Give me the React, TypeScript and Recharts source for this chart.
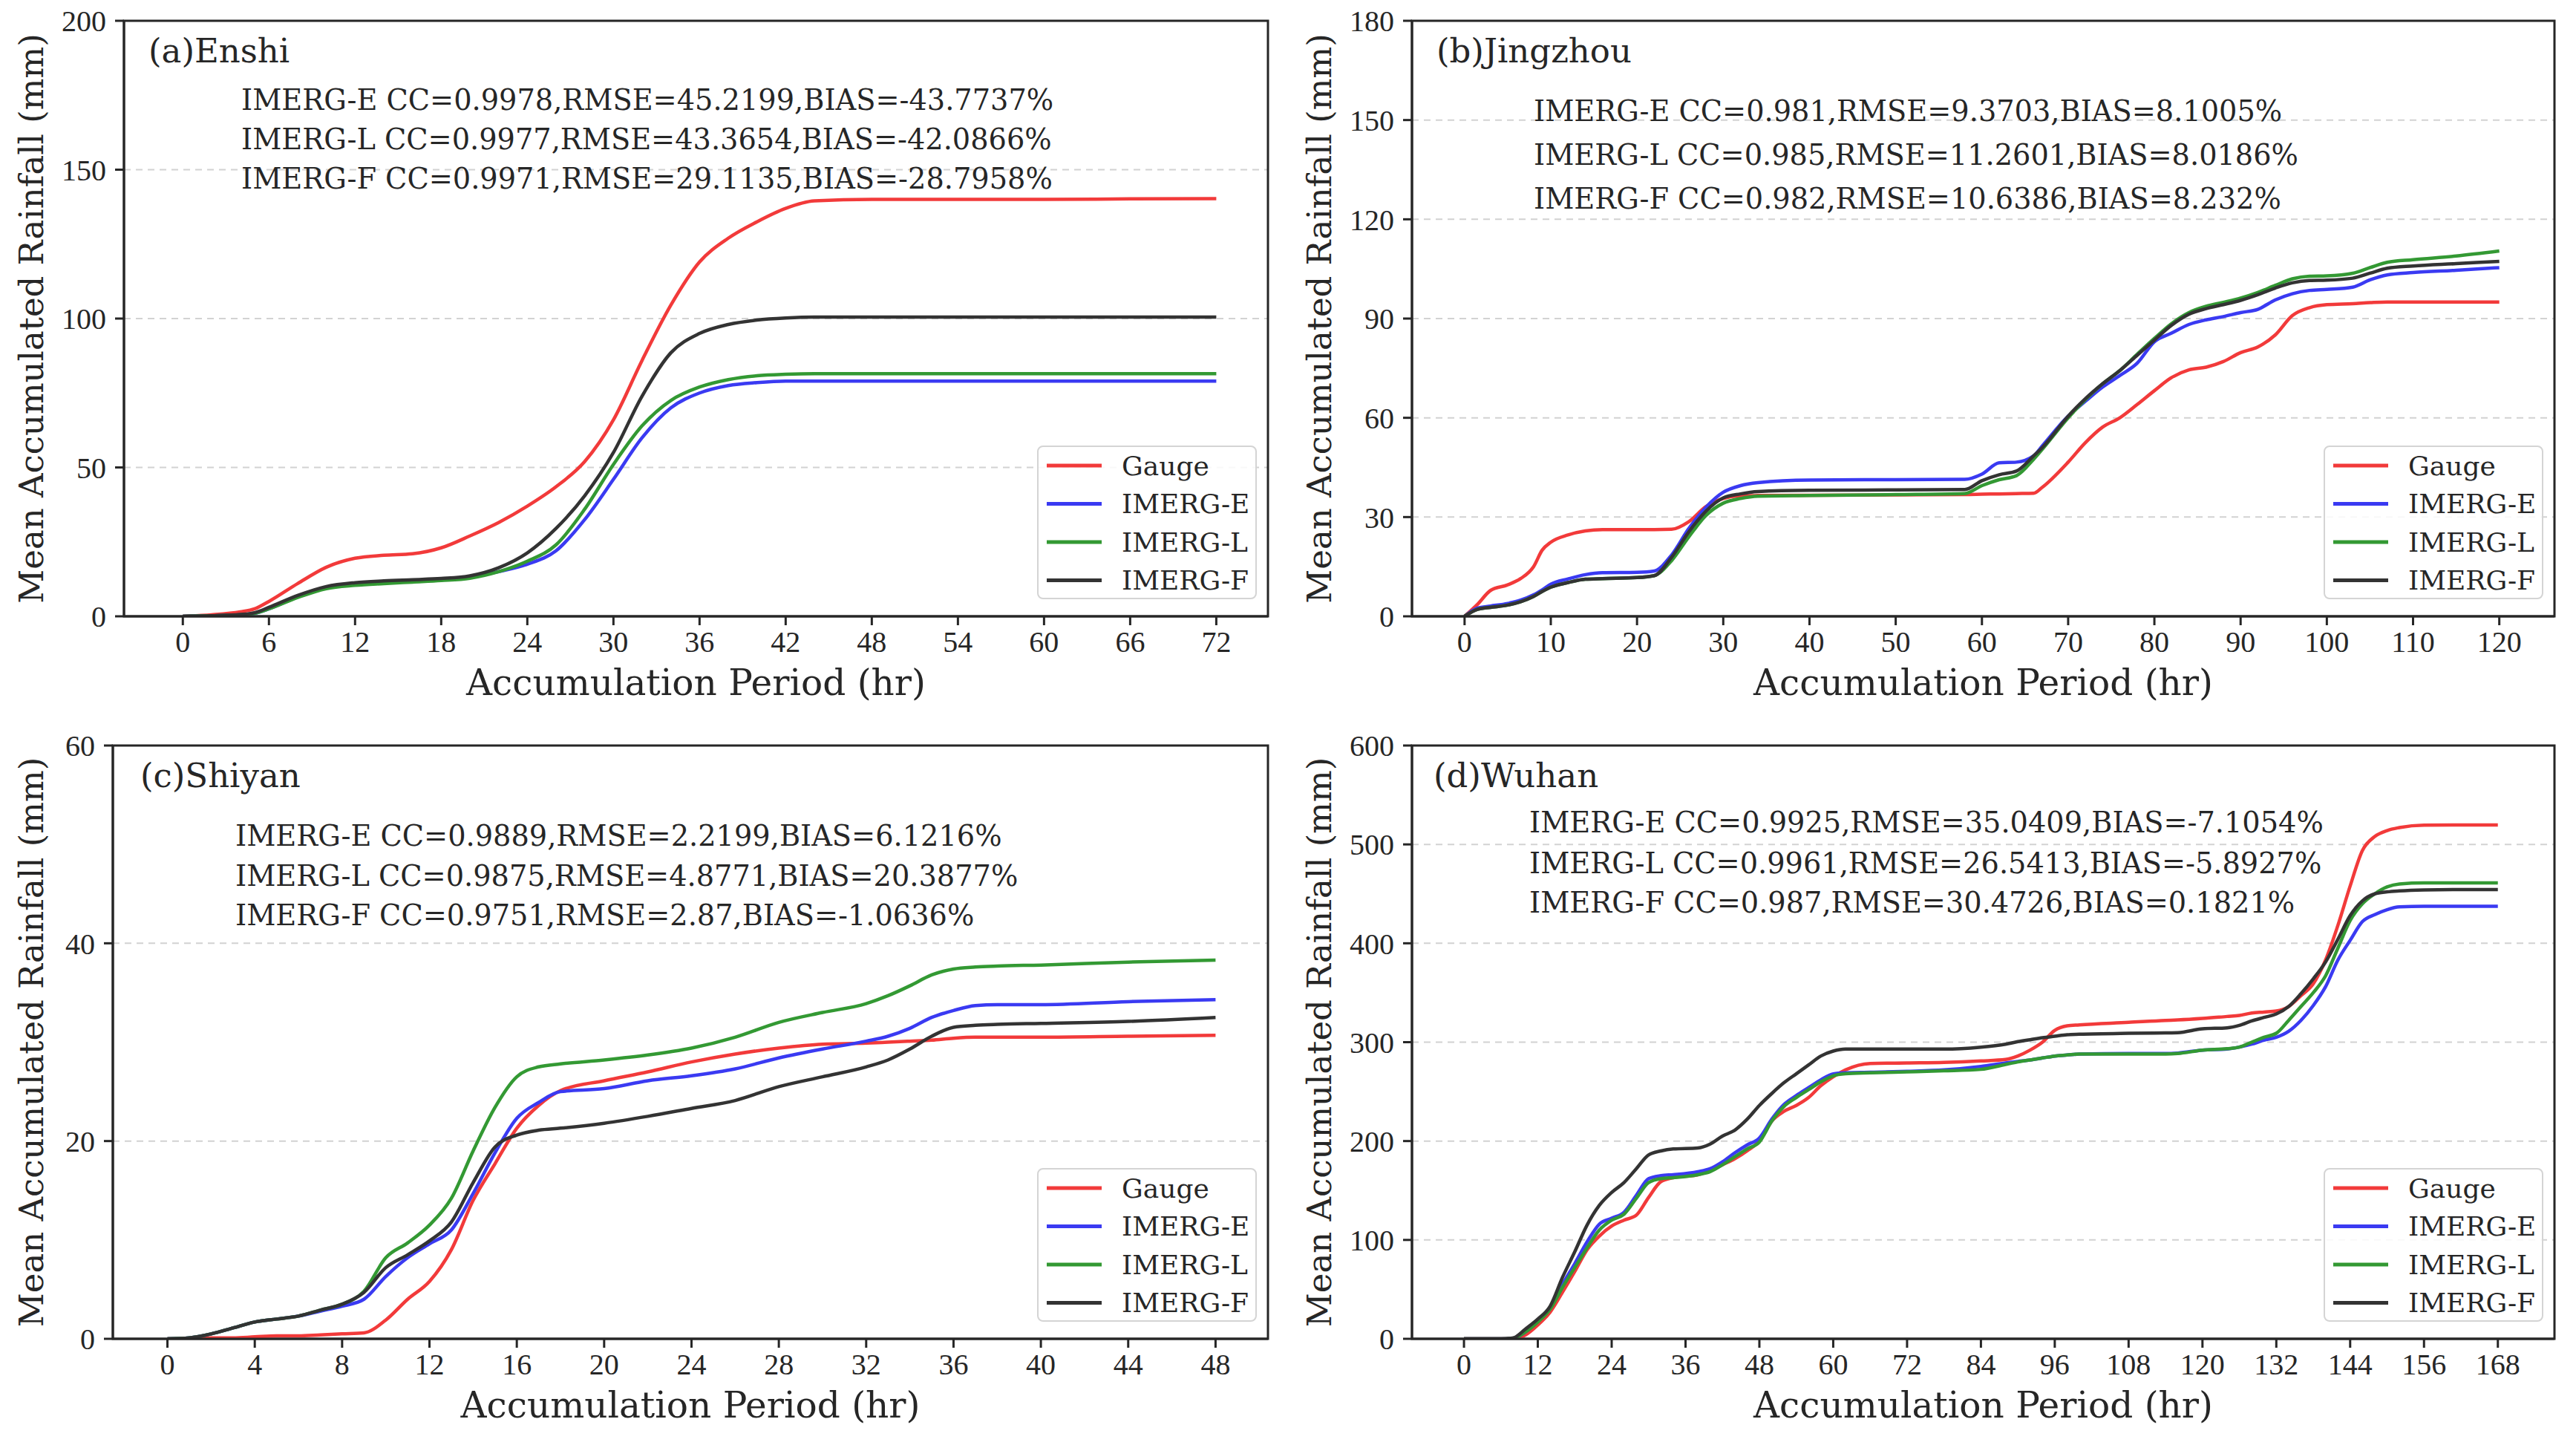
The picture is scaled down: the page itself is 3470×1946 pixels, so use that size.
import React from 'react';
import { LineChart, Line, XAxis, YAxis, CartesianGrid, ReferenceArea, Legend } from 'recharts';

const SERIES_NAMES = ['Gauge', 'IMERG-E', 'IMERG-L', 'IMERG-F'];
const SERIES_KEYS = ['gauge', 'e', 'l', 'f'];
const SERIES_COLORS = ['#f23a3a', '#3a3af2', '#339933', '#333333'];

// (a) Enshi
const enshiHours = [0, 2, 4, 5, 6, 8, 10, 12, 14, 16, 18, 20, 22, 24, 26, 28, 30, 32, 34, 36, 38, 40, 42, 44, 48, 54, 60, 66, 72];
const enshiGauge = [0, 0.5, 1.5, 2.5, 5, 11, 16.5, 19.5, 20.5, 21, 23, 27, 31.5, 37, 43.5, 52, 66, 86, 104.5, 119, 127, 132.5, 137, 139.5, 140, 140, 140, 140.2, 140.3];
const enshiE = [0, 0.2, 0.5, 1, 2.5, 6.5, 9.6, 10.8, 11.4, 11.8, 12.2, 13.2, 15, 17.5, 22, 32.5, 46, 60, 70, 75, 77.5, 78.5, 79, 79, 79, 79, 79, 79, 79];
const enshiL = [0, 0.2, 0.5, 1, 2.5, 6.3, 9.3, 10.4, 11, 11.5, 12, 12.8, 15, 18.5, 24, 36, 51, 64, 72.5, 77, 79.5, 80.8, 81.3, 81.5, 81.5, 81.5, 81.5, 81.5, 81.5];
const enshiF = [0, 0.2, 0.6, 1.2, 3, 7, 10, 11.3, 11.9, 12.3, 12.7, 13.6, 16.3, 21.3, 29.5, 40.5, 55, 74, 88.5, 95, 98, 99.5, 100.2, 100.5, 100.5, 100.5, 100.5, 100.5, 100.5];
const enshiStats = [
  'IMERG-E CC=0.9978,RMSE=45.2199,BIAS=-43.7737%',
  'IMERG-L CC=0.9977,RMSE=43.3654,BIAS=-42.0866%',
  'IMERG-F CC=0.9971,RMSE=29.1135,BIAS=-28.7958%',
];
const enshiXTicks = [0, 6, 12, 18, 24, 30, 36, 42, 48, 54, 60, 66, 72];
const enshiYTicks = [0, 50, 100, 150, 200];

// (b) Jingzhou
const jingzhouHours = [0, 1.5, 3, 5, 6.5, 8, 9, 10, 12, 14, 16, 20, 22, 24, 26, 28, 30, 32, 34, 40, 50, 58, 60, 62, 64, 66, 67, 70, 72, 74, 76, 78, 80, 82, 84, 86, 88, 90, 92, 94, 96, 98, 100, 103, 105, 107, 110, 115, 120];
const jingzhouGauge = [0, 3.6, 7.8, 9.5, 11.4, 15, 20, 22.4, 24.6, 25.8, 26.2, 26.2, 26.2, 26.3, 28.6, 33.2, 35.6, 36.4, 36.5, 36.6, 36.7, 36.8, 36.9, 37, 37.1, 37.2, 39, 46.6, 52.5, 57.2, 60, 64, 68.2, 72.2, 74.5, 75.3, 77, 79.7, 81.4, 85, 90.9, 93.3, 94.2, 94.5, 94.8, 95, 95, 95, 95];
const jingzhouE = [0, 2.5, 3.1, 3.9, 4.9, 6.5, 8, 9.7, 11.3, 12.6, 13.2, 13.3, 13.7, 18.5, 26.5, 33, 37.5, 39.5, 40.4, 41.2, 41.3, 41.4, 43, 46.4, 46.6, 48.5, 51.5, 60.5, 65, 69.3, 72.8, 76.5, 83, 85.6, 88.2, 89.6, 90.6, 91.8, 92.8, 95.6, 97.5, 98.5, 98.8, 99.5, 101.7, 103.2, 103.9, 104.6, 105.4];
const jingzhouL = [0, 2.1, 2.7, 3.4, 4.4, 6, 7.5, 8.8, 10.2, 11.2, 11.4, 11.7, 12.3, 16.8, 24, 30.5, 34.2, 35.6, 36.3, 36.5, 36.8, 37.1, 39.5, 41.3, 42.5, 47.5, 50.5, 60, 65.5, 70.3, 74.3, 79.2, 84, 88.5, 91.8, 93.7, 94.9, 96.2, 97.9, 100, 102, 102.8, 102.9, 103.7, 105.4, 107, 107.8, 108.9, 110.4];
const jingzhouF = [0, 2.1, 2.7, 3.4, 4.4, 6, 7.5, 8.8, 10.2, 11.2, 11.4, 11.7, 12.3, 17.8, 25.5, 31.8, 35.8, 37, 37.7, 38.1, 38.2, 38.3, 41, 42.8, 43.9, 48.5, 51, 60.5, 65.8, 70.3, 74.3, 78.9, 83.5, 88, 91.3, 93, 94.2, 95.5, 97.2, 99.2, 100.8, 101.5, 101.6, 102.2, 103.7, 105.2, 105.9, 106.6, 107.3];
const jingzhouStats = [
  'IMERG-E CC=0.981,RMSE=9.3703,BIAS=8.1005%',
  'IMERG-L CC=0.985,RMSE=11.2601,BIAS=8.0186%',
  'IMERG-F CC=0.982,RMSE=10.6386,BIAS=8.232%',
];
const jingzhouXTicks = [0, 10, 20, 30, 40, 50, 60, 70, 80, 90, 100, 110, 120];
const jingzhouYTicks = [0, 30, 60, 90, 120, 150, 180];

// (c) Shiyan
const shiyanHours = [0, 1, 2, 3, 4, 5, 6, 7, 8, 9, 10, 11, 12, 13, 14, 15, 16, 17, 18, 20, 22, 24, 26, 28, 30, 32, 33, 34, 35, 36, 37, 38, 40, 44, 48];
const shiyanGauge = [0, 0, 0.1, 0.1, 0.2, 0.3, 0.3, 0.4, 0.5, 0.6, 1.9, 4, 5.8, 9, 14, 17.7, 21.3, 23.6, 25.1, 26.1, 27, 28, 28.8, 29.4, 29.8, 29.9, 30, 30.1, 30.2, 30.4, 30.5, 30.5, 30.5, 30.6, 30.7];
const shiyanE = [0, 0.1, 0.5, 1.1, 1.7, 2, 2.3, 2.8, 3.3, 4, 6.3, 8.2, 9.6, 11, 14.7, 18.8, 22.3, 23.9, 25, 25.3, 26.1, 26.6, 27.3, 28.4, 29.3, 30.1, 30.6, 31.4, 32.5, 33.2, 33.7, 33.8, 33.8, 34.1, 34.3];
const shiyanL = [0, 0.1, 0.5, 1.1, 1.7, 2, 2.3, 2.9, 3.5, 4.8, 8.2, 9.7, 11.5, 14.2, 19, 23.4, 26.5, 27.5, 27.8, 28.2, 28.7, 29.4, 30.5, 32, 33, 33.9, 34.7, 35.7, 36.8, 37.4, 37.6, 37.7, 37.8, 38.1, 38.3];
const shiyanF = [0, 0.1, 0.5, 1.1, 1.7, 2, 2.3, 2.9, 3.5, 4.7, 7.2, 8.5, 9.9, 11.8, 15.8, 19.4, 20.6, 21.1, 21.3, 21.8, 22.5, 23.3, 24.1, 25.5, 26.5, 27.5, 28.2, 29.3, 30.6, 31.5, 31.7, 31.8, 31.9, 32.1, 32.5];
const shiyanStats = [
  'IMERG-E CC=0.9889,RMSE=2.2199,BIAS=6.1216%',
  'IMERG-L CC=0.9875,RMSE=4.8771,BIAS=20.3877%',
  'IMERG-F CC=0.9751,RMSE=2.87,BIAS=-1.0636%',
];
const shiyanXTicks = [0, 4, 8, 12, 16, 20, 24, 28, 32, 36, 40, 44, 48];
const shiyanYTicks = [0, 20, 40, 60];

// (d) Wuhan
const wuhanHours = [0, 6, 8, 10, 12, 14, 16, 18, 20, 22, 24, 26, 28, 30, 32, 34, 38, 40, 42, 44, 46, 48, 50, 52, 54, 56, 58, 60, 62, 66, 72, 78, 84, 88, 90, 92, 94, 96, 98, 100, 108, 114, 116, 120, 124, 126, 128, 130, 132, 134, 136, 138, 140, 142, 144, 146, 148, 150, 152, 156, 162, 168];
const wuhanGauge = [0, 0, 0.5, 4, 14, 27, 47, 68, 90, 104, 114, 120, 125, 143, 159, 163, 166, 170, 176, 182, 190, 200, 220, 230, 236, 244, 256, 265, 272, 278.5, 279, 279.5, 281, 282.5, 286, 292, 300, 312, 316.5, 317.5, 320, 322, 322.5, 324, 326, 327, 329.5, 330.5, 331.5, 336, 347, 359, 383, 418, 458, 494, 508, 514, 517, 519.5, 519.6, 519.6];
const wuhanE = [0, 0, 0.5, 7, 18, 32, 55, 76, 98, 116, 122, 128, 145, 162, 165, 166, 169, 172, 179, 188, 196, 203, 222, 237, 246, 254, 262, 268, 269, 269.5, 270.5, 272, 275.5, 279, 280.5, 282, 284, 286, 287, 288, 288.5, 288.5, 289, 292, 293, 295, 298, 302, 305, 311, 322, 337, 356, 383, 403, 422, 429, 434, 436.8, 437.4, 437.4, 437.4];
const wuhanL = [0, 0, 0.5, 7, 17, 30, 52, 72, 92, 110, 120, 126, 142, 158, 162, 163, 166, 169, 176, 184, 192, 199, 220, 235, 244, 252, 260, 266, 268, 269, 270, 271, 272.5, 277.5, 280, 282, 284, 286, 287, 288, 288, 288, 288.5, 292, 293.4, 295, 300, 305, 309, 322, 336, 350, 367, 395, 423, 440, 450, 457, 460, 461, 461, 461];
const wuhanF = [0, 0, 1, 10, 20, 33, 62, 88, 115, 135, 148, 158, 172, 186, 190, 192, 193, 197, 205, 211, 222, 236, 248, 259, 268, 277, 286, 291, 293, 293, 293, 293, 295, 298, 300.5, 302.5, 304.5, 306, 307.5, 308, 309, 309.4, 309.6, 313.5, 314.5, 317, 321.5, 325, 328.5, 336, 349, 364, 381, 404, 428, 443, 450, 452, 453, 454, 454.4, 454.4];
const wuhanStats = [
  'IMERG-E CC=0.9925,RMSE=35.0409,BIAS=-7.1054%',
  'IMERG-L CC=0.9961,RMSE=26.5413,BIAS=-5.8927%',
  'IMERG-F CC=0.987,RMSE=30.4726,BIAS=0.1821%',
];
const wuhanXTicks = [0, 12, 24, 36, 48, 60, 72, 84, 96, 108, 120, 132, 144, 156, 168];
const wuhanYTicks = [0, 100, 200, 300, 400, 500, 600];

const PANEL_W = 1735;
const PANEL_H = 973;
const Y_AXIS_W = 100;
const X_AXIS_H = 80;
const INK = '#262626';
const LEGEND_W = 296;
const LEGEND_H = 207;

const tickFont = { fontFamily: 'Liberation Serif', fontSize: 40, fill: INK };
const axisStroke = { stroke: INK, strokeWidth: 3 };

function LegendBox() {
  return (
    <svg width={LEGEND_W} height={LEGEND_H} style={{ display: 'block' }}>
      <rect x={1} y={1} width={LEGEND_W - 2} height={LEGEND_H - 2} rx={7} fill="#ffffff" fillOpacity={0.85} stroke="#d4d4d4" strokeWidth={2} />
      {SERIES_NAMES.map((name, i) => {
        const y = 27 + i * 51.5;
        return (
          <g key={name}>
            <line x1={13} x2={87} y1={y} y2={y} stroke={SERIES_COLORS[i]} strokeWidth={5} />
            <text x={114} y={y} dominantBaseline="central" fontFamily="DejaVu Serif" fontSize={36} fill={INK}>
              {name}
            </text>
          </g>
        );
      })}
    </svg>
  );
}

function Panel(props) {
  const { x, y, box, hours, series, xDomain, xTicks, yTicks, title, titlePos, stats, statsX, statsY } = props;
  const yMax = yTicks[yTicks.length - 1];
  const data = hours.map((hr, i) => {
    const row = { hr };
    SERIES_KEYS.forEach((k, s) => {
      row[k] = series[s][i];
    });
    return row;
  });
  const margin = {
    left: box.left - Y_AXIS_W,
    right: PANEL_W - box.right,
    top: box.top,
    bottom: PANEL_H - box.bottom - X_AXIS_H,
  };
  const cx = (box.left + box.right) / 2;
  const cy = (box.top + box.bottom) / 2;

  return (
    <div style={{ position: 'absolute', left: x, top: y, width: PANEL_W, height: PANEL_H }}>
      <LineChart width={PANEL_W} height={PANEL_H} data={data} margin={margin}>
        <CartesianGrid vertical={false} stroke="#d2d2d2" strokeDasharray="9 7" strokeWidth={2} />
        <XAxis
          dataKey="hr"
          type="number"
          domain={xDomain}
          allowDataOverflow
          ticks={xTicks}
          interval={0}
          height={X_AXIS_H}
          tickSize={12}
          tickMargin={8}
          tick={tickFont}
          axisLine={axisStroke}
          tickLine={axisStroke}
        />
        <YAxis
          type="number"
          domain={[0, yMax]}
          allowDataOverflow
          ticks={yTicks}
          interval={0}
          width={Y_AXIS_W}
          tickSize={12}
          tickMargin={12}
          tick={tickFont}
          axisLine={axisStroke}
          tickLine={axisStroke}
        />
        {SERIES_KEYS.map((k, i) => (
          <Line
            key={k}
            type="monotone"
            dataKey={k}
            name={SERIES_NAMES[i]}
            stroke={SERIES_COLORS[i]}
            strokeWidth={4.5}
            dot={false}
            isAnimationActive={false}
          />
        ))}
        <ReferenceArea
          x1={xDomain[0]}
          x2={xDomain[1]}
          y1={0}
          y2={yMax}
          fill="none"
          stroke={INK}
          strokeWidth={3}
          ifOverflow="visible"
        />
        <Legend
          layout="vertical"
          align="center"
          verticalAlign="middle"
          content={() => <LegendBox />}
          wrapperStyle={{
            left: box.right - 15 - LEGEND_W,
            top: box.bottom - 23 - LEGEND_H,
            width: LEGEND_W,
            height: LEGEND_H,
          }}
        />
      </LineChart>
      <svg
        width={PANEL_W}
        height={PANEL_H}
        style={{ position: 'absolute', left: 0, top: 0, pointerEvents: 'none', overflow: 'visible' }}
      >
        <text x={titlePos[0]} y={titlePos[1]} fontFamily="DejaVu Serif" fontSize={45} fill={INK}>
          {title}
        </text>
        {stats.map((s, i) => (
          <text key={s} x={statsX} y={statsY[i]} fontFamily="DejaVu Serif" fontSize={38.3} fill={INK}>
            {s}
          </text>
        ))}
        <text x={cx} y={936} textAnchor="middle" fontFamily="DejaVu Serif" fontSize={48.5} fill={INK}>
          Accumulation Period (hr)
        </text>
        <text
          x={58}
          y={cy}
          textAnchor="middle"
          transform={`rotate(-90, 58, ${cy})`}
          fontFamily="DejaVu Serif"
          fontSize={45}
          fill={INK}
        >
          Mean Accumulated Rainfall (mm)
        </text>
      </svg>
    </div>
  );
}

export default function App() {
  return (
    <div style={{ position: 'absolute', left: 0, top: 0, width: 3470, height: 1946, background: '#ffffff', overflow: 'hidden' }}>
      <Panel
        x={0}
        y={0}
        box={{ left: 167, right: 1708, top: 28, bottom: 830 }}
        hours={enshiHours}
        series={[enshiGauge, enshiE, enshiL, enshiF]}
        xDomain={[-4.1, 75.6]}
        xTicks={enshiXTicks}
        yTicks={enshiYTicks}
        title="(a)Enshi"
        titlePos={[200, 84]}
        stats={enshiStats}
        statsX={325}
        statsY={[148, 201, 254]}
      />
      <Panel
        x={1735}
        y={0}
        box={{ left: 167, right: 1706, top: 28, bottom: 830 }}
        hours={jingzhouHours}
        series={[jingzhouGauge, jingzhouE, jingzhouL, jingzhouF]}
        xDomain={[-6.1, 126.4]}
        xTicks={jingzhouXTicks}
        yTicks={jingzhouYTicks}
        title="(b)Jingzhou"
        titlePos={[200, 84]}
        stats={jingzhouStats}
        statsX={331}
        statsY={[163, 222, 281]}
      />
      <Panel
        x={0}
        y={973}
        box={{ left: 152, right: 1708, top: 31, bottom: 830 }}
        hours={shiyanHours}
        series={[shiyanGauge, shiyanE, shiyanL, shiyanF]}
        xDomain={[-2.5, 50.4]}
        xTicks={shiyanXTicks}
        yTicks={shiyanYTicks}
        title="(c)Shiyan"
        titlePos={[189, 87]}
        stats={shiyanStats}
        statsX={317}
        statsY={[166, 220, 273]}
      />
      <Panel
        x={1735}
        y={973}
        box={{ left: 167, right: 1706, top: 31, bottom: 830 }}
        hours={wuhanHours}
        series={[wuhanGauge, wuhanE, wuhanL, wuhanF]}
        xDomain={[-8.45, 177.2]}
        xTicks={wuhanXTicks}
        yTicks={wuhanYTicks}
        title="(d)Wuhan"
        titlePos={[196, 87]}
        stats={wuhanStats}
        statsX={325}
        statsY={[148, 203, 256]}
      />
    </div>
  );
}
